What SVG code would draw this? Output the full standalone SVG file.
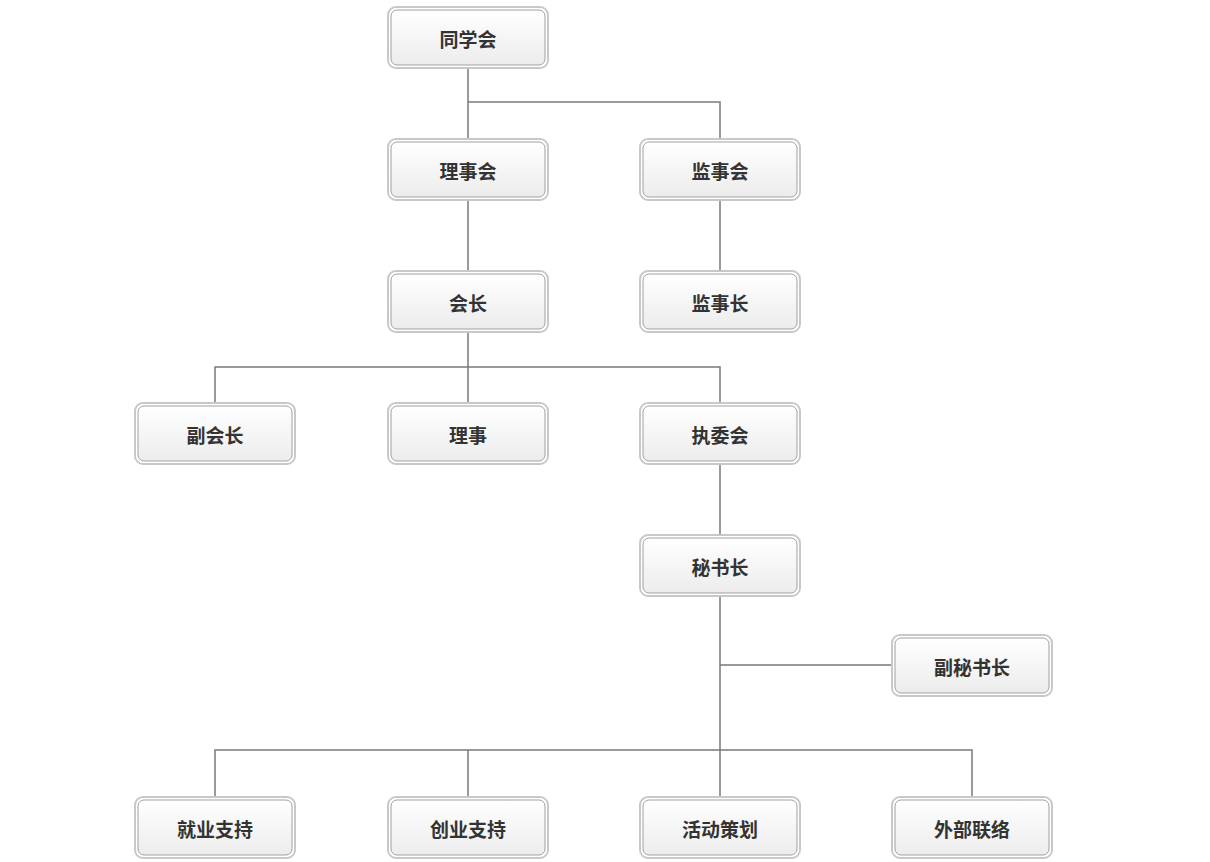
<svg xmlns="http://www.w3.org/2000/svg" width="1210" height="862" viewBox="0 0 1210 862">
<style>
.o{fill:none;stroke:#c8c8c8;stroke-width:2}
.b{fill:url(#g);stroke:#a0a0a0;stroke-width:1}
.t{font-family:"Noto Sans CJK SC",sans-serif;font-size:19px;font-weight:bold;fill:#333;text-anchor:middle;dominant-baseline:central}
.c{fill:none;stroke:#7a7a7a;stroke-width:1.5}
</style>
<defs><linearGradient id="g" x1="0" y1="0" x2="0" y2="1"><stop offset="0" stop-color="#ffffff"/><stop offset="1" stop-color="#ececec"/></linearGradient>
<g id="box"><rect class="o" x="-80" y="0" width="160" height="61" rx="8"/><rect class="b" x="-77" y="3" width="154" height="55" rx="6"/></g></defs>
<rect width="1210" height="862" fill="#fff"/>
<g id="connectors">
<path class="c" d="M468 68V139M468 102H720V139M468 200V271M720 200V271M468 332V403M215 403V367H720V403M720 464V535M720 596V797M720 665H893M215 797V750H972V797M468 750V797"/>
</g>
<g id="n1" transform="translate(468,7)"><use href="#box"/><text class="t" y="31">同学会</text></g>
<g id="n2" transform="translate(468,139)"><use href="#box"/><text class="t" y="31">理事会</text></g>
<g id="n3" transform="translate(720,139)"><use href="#box"/><text class="t" y="31">监事会</text></g>
<g id="n4" transform="translate(468,271)"><use href="#box"/><text class="t" y="31">会长</text></g>
<g id="n5" transform="translate(720,271)"><use href="#box"/><text class="t" y="31">监事长</text></g>
<g id="n6" transform="translate(215,403)"><use href="#box"/><text class="t" y="31">副会长</text></g>
<g id="n7" transform="translate(468,403)"><use href="#box"/><text class="t" y="31">理事</text></g>
<g id="n8" transform="translate(720,403)"><use href="#box"/><text class="t" y="31">执委会</text></g>
<g id="n9" transform="translate(720,535)"><use href="#box"/><text class="t" y="31">秘书长</text></g>
<g id="n10" transform="translate(972,635)"><use href="#box"/><text class="t" y="31">副秘书长</text></g>
<g id="n11" transform="translate(215,797)"><use href="#box"/><text class="t" y="31">就业支持</text></g>
<g id="n12" transform="translate(468,797)"><use href="#box"/><text class="t" y="31">创业支持</text></g>
<g id="n13" transform="translate(720,797)"><use href="#box"/><text class="t" y="31">活动策划</text></g>
<g id="n14" transform="translate(972,797)"><use href="#box"/><text class="t" y="31">外部联络</text></g>
</svg>
